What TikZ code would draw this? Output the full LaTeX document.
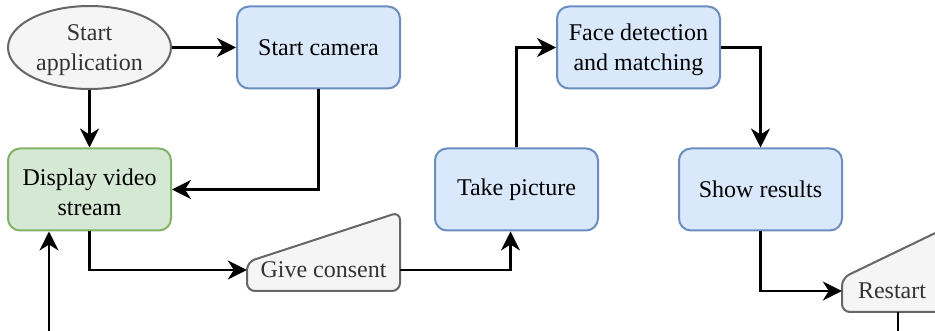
\documentclass[tikz,border=0pt]{standalone}
\usepackage{fontspec}
\setmainfont{Liberation Serif}
\usetikzlibrary{arrows.meta,shapes.geometric}
\definecolor{bluefill}{HTML}{DAE8FC}
\definecolor{bluedraw}{HTML}{6C8EBF}
\definecolor{greenfill}{HTML}{D5E8D4}
\definecolor{greendraw}{HTML}{82B366}
\definecolor{greyfill}{HTML}{F5F5F5}
\definecolor{greydraw}{HTML}{666666}
\definecolor{greytext}{HTML}{333333}
\begin{document}
\begin{tikzpicture}[x=1pt,y=1pt,
  every node/.style={font=\fontsize{24}{30}\selectfont, align=center, inner sep=0pt},
  process/.style={draw=bluedraw, fill=bluefill, line width=2pt, rounded corners=12pt,
    minimum width=163pt, minimum height=82pt},
  greenbox/.style={process, draw=greendraw, fill=greenfill},
  terminal/.style={ellipse, draw=greydraw, fill=greyfill, line width=2pt,
    minimum width=163pt, minimum height=83pt},
  manualanchor/.style={minimum height=42pt},
  manualshape/.style={draw=greydraw, fill=greyfill, line width=2pt, rounded corners=8pt},
  flow/.style={draw=black, line width=2.2pt, -{Stealth[length=19pt, width=19pt, inset=6pt]}},
  caption/.style={yshift=-2.5pt},
]
\useasboundingbox (0,0) rectangle (935,-331);
\fill[white] (0,0) rectangle (935,-331);
\clip (0,0) rectangle (935,-331);

% main steps; two-line captions sit a little below the box centre
\node[terminal, label={[caption, text=greytext]center:{Start\\application}}] (start) at (89.5,-47.5) {};
\node[process] (cam) at (318.5,-47.5) {Start camera};
\node[greenbox, label={[caption]center:{Display video\\stream}}] (disp) at (89.5,-189.5) {};
\node[process] (take) at (516.5,-189.5) {Take picture};
\node[process, label={[caption]center:{Face detection\\and matching}}] (face) at (638.5,-47.5) {};
\node[process] (show) at (760.5,-189.5) {Show results};

% manual input steps: outline first, then the labelled anchor node
\coordinate (consentbl) at (247,-291);
\coordinate (consentbr) at (400,-291);
\path[manualshape] (consentbl) -- ++(0,29) -- ([yshift=79]consentbr) -- (consentbr) -- cycle;
\node[manualanchor, minimum width=153pt, text=greytext] (consent) at (323.5,-270) {Give consent};

\coordinate (restartbl) at (842,-312);
\coordinate (restartbr) at (954,-312);
\path[manualshape] (restartbl) -- ++(0,34) -- ([yshift=88]restartbr) -- (restartbr) -- cycle;
\node[manualanchor, minimum width=112pt, text=greytext] (restart) at (898,-291) {\hspace*{-12pt}Restart};

% connectors
\draw[flow] (start.east) -- (cam.west);
\draw[flow] (start.south) -- (disp.north);
\draw[flow] (cam.south) |- (disp.east);
\draw[flow] (disp.south) |- (consent.west);
\draw[flow] (consent.east) -| ([xshift=-6pt]take.south);
\draw[flow] (take.north) |- (face.west);
\draw[flow] (face.east) -| (show.north);
\draw[flow] (show.south) |- (restart.west);
\coordinate (loop) at (49,-331.8);
\draw[flow] (restart.south) |- (loop) -- (loop |- disp.south);
\end{tikzpicture}
\end{document}
